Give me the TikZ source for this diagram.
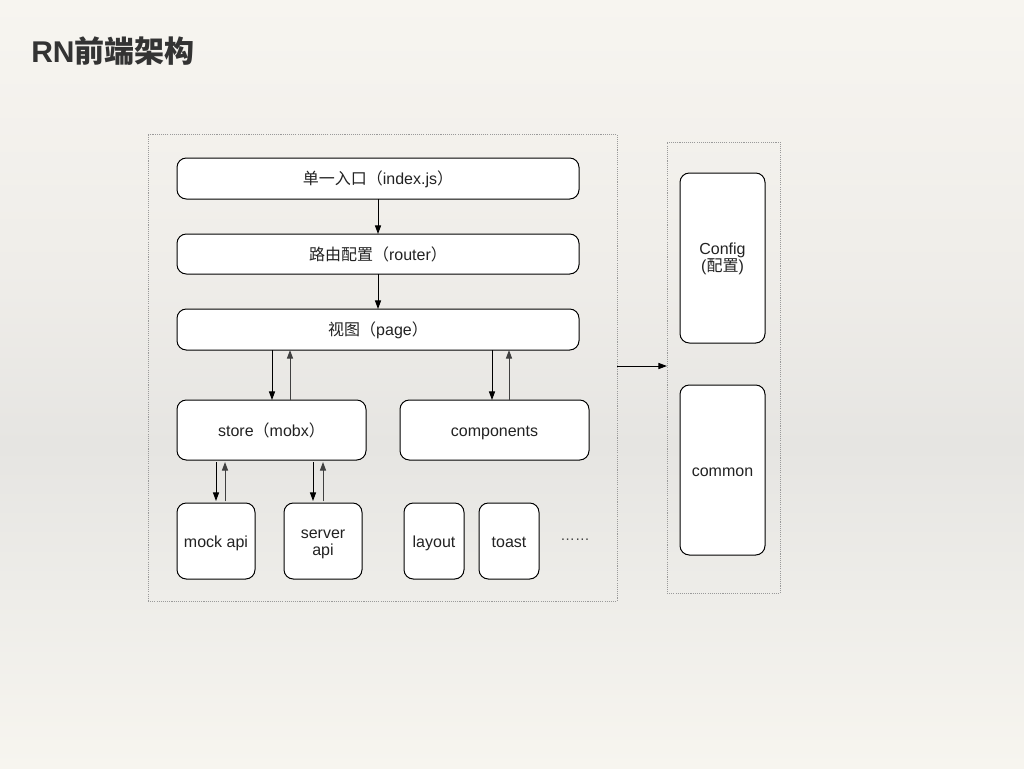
\documentclass[tikz,border=0pt]{standalone}
\usepackage{fontspec}
\setmainfont{Liberation Sans}
\newfontfamily\cjk{Noto Sans CJK SC}
\usetikzlibrary{arrows.meta}
\newcommand{\zhtxt}[1]{{\cjk #1}}
\newcommand{\twolines}[3]{\vtop{\baselineskip=#1\lineskiplimit=-20pt\lineskip=0pt\halign{\hfil##\hfil\cr#2\cr#3\cr}}}
\definecolor{txt}{HTML}{222222}
\definecolor{bgtop}{HTML}{F7F5F0}
\definecolor{bgtwo}{HTML}{EFEDE9}
\definecolor{bgmid}{HTML}{E6E5E2}
\definecolor{bgfour}{HTML}{EEEDE9}
\definecolor{bgbot}{HTML}{F7F5EF}
\definecolor{dotgray}{HTML}{9A9A9A}
\pgfdeclareverticalshading{bgshade}{100bp}{color(0bp)=(bgbot); color(25bp)=(bgbot); color(36bp)=(bgfour); color(46bp)=(bgmid); color(57.5bp)=(bgtwo); color(75bp)=(bgtop); color(100bp)=(bgtop)}
\begin{document}
\begin{tikzpicture}[x=0.75pt,y=-0.75pt,
  box/.style={draw=black,line width=0.75pt,fill=white,rounded corners=7pt,
    inner sep=0pt,outer sep=0pt,text=txt,font=\fontsize{12pt}{15pt}\selectfont,
    text height=9.6pt,text depth=0.4pt},
  group/.style={draw=dotgray,line width=0.75pt,dash pattern=on 0.8pt off 0.8pt,
    inner sep=0pt,outer sep=0pt},
  arr/.style={line width=0.75pt,-{Triangle[length=6.5pt,width=4.6pt]}},
  arrup/.style={arr,draw=black!75,fill=black!75}
]
\useasboundingbox (0,0) rectangle (1024,768);
\shade[shading=bgshade] (0,0) rectangle (1024,768);

\node[anchor=west,inner sep=0pt,text=black!80,font=\fontsize{22.5pt}{26pt}\selectfont\bfseries] (title) at (31,51)
  {RN{\cjk\bfseries 前端架构}};

% groups
\node[group,minimum width=351.75pt,minimum height=350.25pt] (outer) at (382.5,367.5) {};
\node[group,minimum width=84.75pt,minimum height=338.25pt] (right) at (723.5,367.5) {};

% main boxes
\node[box,minimum width=301.5pt,minimum height=30.75pt] (entry) at (378,178.5) {\zhtxt{单一入口（}index.js\zhtxt{）}};
\node[box,minimum width=301.5pt,minimum height=30pt] (router) at (378,254) {\zhtxt{路由配置（}router\zhtxt{）}};
\node[box,minimum width=301.5pt,minimum height=30.75pt] (page) at (378,329.5) {\zhtxt{视图（}page\zhtxt{）}};
\node[box,minimum width=141.75pt,minimum height=45pt] (store) at (271.5,430) {store\zhtxt{（}mobx\zhtxt{）}};
\node[box,minimum width=141.75pt,minimum height=45pt] (comp) at (494.5,430) {components};
\node[box,minimum width=58.5pt,minimum height=57pt] (mock) at (216,541) {mock api};
\node[box,minimum width=58.5pt,minimum height=57pt,text height=0pt,text depth=4pt] (server) at (323,541) {\twolines{12.6pt}{server}{api}};
\node[box,minimum width=45pt,minimum height=57pt] (layout) at (434,541) {layout};
\node[box,minimum width=45pt,minimum height=57pt] (toast) at (509,541) {toast};
\node[inner sep=0pt,text=black!75,font=\fontsize{11pt}{13pt}\selectfont] (more) at (575,540) {……};

\node[box,minimum width=63.75pt,minimum height=127.5pt,text height=0pt,text depth=6pt] (config) at (722.5,258) {\twolines{13.2pt}{Config}{(\zhtxt{配置})}};
\node[box,minimum width=63.75pt,minimum height=127.5pt] (common) at (722.5,470) {common};

% helper coordinates
\coordinate (xa) at (378,0);
\coordinate (xb) at (272,0);
\coordinate (xc) at (290,0);
\coordinate (xd) at (492,0);
\coordinate (xe) at (509,0);
\coordinate (xf) at (216,0);
\coordinate (xg) at (225,0);
\coordinate (xh) at (313,0);
\coordinate (xi) at (323,0);
\coordinate (yj) at (0,366);

% arrows
\draw[arr] (entry.south -| xa) -- (router.north -| xa);
\draw[arr] (router.south -| xa) -- (page.north -| xa);
\draw[arr] (page.south -| xb) -- (store.north -| xb);
\draw[arrup] (store.north -| xc) -- (page.south -| xc);
\draw[arr] (page.south -| xd) -- (comp.north -| xd);
\draw[arrup] (comp.north -| xe) -- (page.south -| xe);
\draw[arr] ([yshift=-1.5pt]store.south -| xf) -- ([yshift=1.5pt]mock.north -| xf);
\draw[arrup] ([yshift=1.5pt]mock.north -| xg) -- ([yshift=-1.5pt]store.south -| xg);
\draw[arr] ([yshift=-1.5pt]store.south -| xh) -- ([yshift=1.5pt]server.north -| xh);
\draw[arrup] ([yshift=1.5pt]server.north -| xi) -- ([yshift=-1.5pt]store.south -| xi);
\draw[arr] (outer.east |- yj) -- (right.west |- yj);
\end{tikzpicture}
\end{document}
